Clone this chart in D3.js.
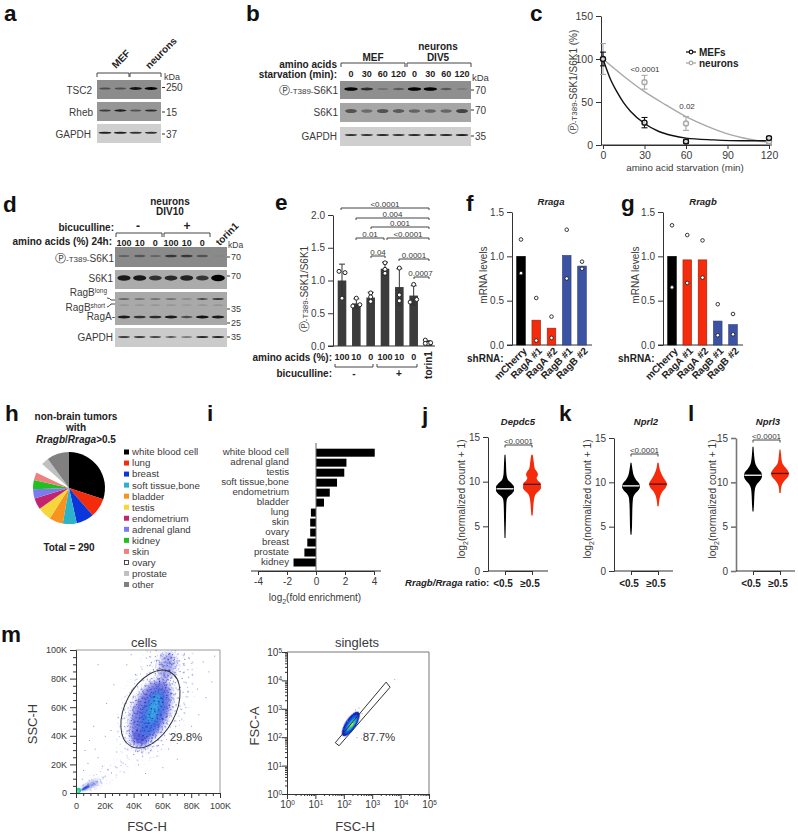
<!DOCTYPE html>
<html><head><meta charset="utf-8">
<script src="https://cdnjs.cloudflare.com/ajax/libs/d3/7.8.5/d3.min.js"></script>
<style>html,body{margin:0;padding:0;background:#fff}svg{display:block}text{font-family:"Liberation Sans",Arial,sans-serif}</style>
</head><body><svg id="fig" width="798" height="834"></svg>
<script>
// ---------- panel a ----------
const aKDa=["250","15","37"];
const aTSC2=[.45,.45,.85,1], aRheb=[.6,.8,.45,.7], aGAPDH=[.85,.85,.75,.75];
// ---------- panel b ----------
const bLanes=["0","30","60","120","0","30","60","120"];
const bPhospho=[1.1,.7,.2,.38,1,1,.4,.13], bS6K1=[.5,.35,.5,.45,.4,.4,.38,.6], bGAPDH=[.75,.75,.8,.75,.8,.8,.8,.85];
// ---------- panel c ----------
const cTimes=[0,30,60,120];
const cMEF=[100,26,4,8], cMEFErr=[8,6,2,2];
const cNeurons=[100,73,25,4], cNeuronsErr=[18,8,8,2];
const cMEFFitT=[0,5,10,15,20,30,40,50,60,80,100,120], cMEFFit=[100,78,62,49,39,25,16,11,8,6,5,5];
const cNeuronFitT=[0,15,30,45,60,75,90,105,120], cNeuronFit=[100,80,62,47,33,22,13,7,3];
// ---------- panel d ----------
const dLanes=["100","10","0","100","10","0"];
const dPhospho=[.3,.38,.28,.6,.6,.4,.03], dS6K1=[.85,.85,.7,.75,.8,.68,1.15];
const dRagBlong=[.5,.4,.42,.42,.22,.6,.65], dRagBshort=[.2,.18,.2,.2,.15,.2,.22], dRagA=[.85,.7,.75,.85,.55,.9,.85], dGAPDH=[.7,.7,.65,.6,.5,.8,.8];
// ---------- panel e ----------
const eLanes=["100","10","0","100","10","0"];
const eMeans=[1.0,.65,.74,1.18,.9,.77,.05];
const eErr=[.25,.07,.08,.1,.28,.15,.03];
const ePoints=[[1.14,1.12,.73],[.73,.61,.63],[.81,.75,.68],[1.27,1.17,1.11],[1.19,.78,.69],[.94,.67,.71],[.09,.04,.05,.04]];
const eJitter=[[-3,3,0],[0,-3.5,3.5],[0,0,0],[0,0,0],[0,0,0],[0,-3.5,3],[-2.7,0,2.7,-2.7]];
// ---------- panels f, g ----------
const shRNA=["mCherry","RagA #1","RagA #2","RagB #1","RagB #2"];
const shColors=["#000","#f42c0c","#f42c0c","#3c52a3","#3c52a3"];
const fMeans=[1.0,.28,.19,1.01,.89], fPoints=[[1.19,.81],[.53,.05],[.32,.08],[1.3,.75],[.94,.86]];
const gMeans=[1.0,.96,.96,.27,.23], gPoints=[[1.35,.65],[1.24,.7],[1.18,.76],[.46,.11],[.35,.12]];
// ---------- panel h ----------
const hTissue=["white blood cell","lung","breast","soft tissue,bone","bladder","testis","endometrium","adrenal gland","kidney","skin","ovary","prostate","other"];
const hCounts=[87,25,23,18,18,18,15,12,12,10,13,10,29];
const hColors=["#000","#f42c0c","#0a36dc","#2bb3c9","#f7931e","#f5d63d","#c4246e","#7b7bf0","#1fc01f","#f08080","#fff","#c0c0c0","#808080"];
// ---------- panel i ----------
const iTissue=["white blood cell","adrenal gland","testis","soft tissue,bone","endometrium","bladder","lung","skin","ovary","breast","prostate","kidney"];
const iEnrich=[4.05,2.1,1.95,1.45,.95,.55,-.35,-.4,-.4,-.6,-.8,-1.55];
// ---------- panels j, k, l : [log2 count, relative width] ----------
const jLow=[[3.7,1.5],[6,3],[7.5,4],[8,5.5],[8.3,10],[8.7,22],[9,27],[9.4,27],[9.8,20],[10.1,11],[10.5,6],[11,4],[12,3],[13,1.5]];
const jHigh=[[6.2,2],[7,3.5],[8,6],[8.6,11],[9,22],[9.3,27],[9.8,26],[10.1,18],[10.4,14],[10.8,18],[11.1,15],[11.5,8],[12,6],[12.6,4],[13,2]];
const kLow=[[4.1,1.5],[5,3],[7,4],[8.2,6],[8.7,12],[9.1,22],[9.5,27],[9.9,24],[10.3,15],[10.8,8],[11.3,5],[11.8,3],[12.2,1.5]];
const kHigh=[[7.3,2],[8,4],[8.5,7],[9,14],[9.4,23],[9.8,27],[10.1,24],[10.5,17],[11,10],[11.5,5],[12.2,2]];
const lLow=[[6.7,1.5],[7.5,3],[8.5,4],[9.3,6],[9.8,12],[10.3,23],[10.7,27],[11.1,25],[11.5,16],[12,8],[12.5,5],[13,3.5],[14,1.5]];
const lHigh=[[8.8,2],[9.5,4],[9.9,8],[10.3,16],[10.7,25],[11,27],[11.5,20],[12,9],[12.5,5],[13,3.5],[13.7,1.5]];
const jkMedians={j:[9.2,9.7],k:[9.6,9.8],l:[10.8,11]};
const ratioLabels=["<0.5","\u22650.5"];
// ---------- panel m : density regions ----------
const cellTicks=[0,20000,40000,60000,80000,100000];
const cellTickLabels=["0","20K","40K","60K","80K","100K"];
const cellGate=[51700,58700,25,42,28]; // cx, cy, rx, ry, rotation
const cellSparse=[[55000,62000,31,60,24,.75],[20000,12000,6,27,60,.8],[64000,90000,24,24,0,.9],[47000,36000,15,15,30,.9]];
const cellDense=[[52000,57000,20,36,24,1],[63000,88000,11,18,12,.85],[44000,37000,13,10,30,1],[12000,6000,2.5,12,64,.8]];
const cellGlow=[[52000,57000,17,33,23,"#1c24c8",.55],[63000,88000,7,14,12,"#1c24c8",.35],[44000,37000,9,7,30,"#1c24c8",.4],[53000,56000,10,25,20,"#1a6ee0",.6],[54000,59000,4.5,15,18,"#33bfe0",.85],[10000,5500,1.8,9,64,"#1c30d0",.7]];
const cellCore=[[6500,3500,1.3,4.5,60,"#1a40d8",.9],[1500,1800,3,2.6,0,"#20d0a0",1],[1000,1200,1.6,1.4,0,"#60e870",1]];
const cellOutliers=[[26000,76000],[21000,63000],[12000,47000],[9000,37000],[6000,30000],[13000,31000],[20000,40000],[29000,53000],[24000,44000],[8000,21000],[5000,16000],[4000,10000],[15000,25000],[18000,19000],[28000,29000],[33000,15000],[31000,22000],[56000,26000],[64000,31000],[70000,35000],[72000,42000],[80000,47000],[85000,55000],[90000,67000],[84000,73000],[94000,78000],[88000,92000],[96000,96000],[78000,95000],[92000,85000],[76000,60000],[35000,90000],[38000,97000],[41000,83000],[60000,18000],[70000,24000],[15000,90000],[48000,14000],[43000,20000],[67000,40000]];
const logDecades=[1,10,100,1000,10000,100000];
const singletGate=[[50,64],[68,50],[4260,5750],[3090,8700]];
const singletBlob=[[175,290,.19,.5,33,"#0a1ec8"],[180,285,.14,.4,34,"#0a5ae0"],[185,280,.09,.28,36,"#20b0d0"],[190,275,.05,.18,38,"#40d080"],[190,272,.025,.08,38,"#e8e040"]];
const singletOutliers=[[330,1100],[250,950],[500,150],[400,90],[6000,11000],[420,700],[130,380],[90,200],[280,100]];
const stippleTileA=[[1,3],[7,1],[13,4],[20,2],[26,5],[4,9],[10,12],[17,8],[23,11],[28,14],[2,16],[8,19],[15,15],[21,18],[27,21],[5,23],[12,25],[18,22],[24,27],[1,28],[9,6],[15,28],[22,6],[29,9]];
const stippleTileB=[[1,1],[4,3],[7,0],[10,2],[13,4],[2,6],[5,8],[8,5],[11,7],[14,9],[0,11],[3,13],[6,10],[9,12],[12,14],[15,1],[16,6],[17,11],[1,16],[4,17],[8,15],[11,16],[14,17],[17,15]];

// ---------- helpers ----------
const svg=d3.select("#fig");
const defs=svg.append("defs");
const ink="#3a3a3a";
[["b07",.6],["b04",.4],["b2",2],["b1",1.1],["b3",3]].forEach(([id,s])=>{
  defs.append("filter").attr("id",id).attr("x","-50%").attr("y","-50%").attr("width","200%").attr("height","200%")
    .append("feGaussianBlur").attr("stdDeviation",s);
});
function tile(id,pts,size,col,rot,sc){
  const p=defs.append("pattern").attr("id",id).attr("patternUnits","userSpaceOnUse").attr("width",size).attr("height",size).attr("patternTransform",`rotate(${rot}) scale(${sc})`);
  p.selectAll("rect").data(pts).join("rect").attr("x",d=>d[0]).attr("y",d=>d[1]).attr("width",.9).attr("height",.9).attr("fill",(d,i)=>i%3==0?"#5664ec":col);
}
tile("stA",stippleTileA,30,"#2a38d0",17,1);
tile("stA2",stippleTileA,30,"#2a38d0",63,1.27);
tile("stB",stippleTileB,18,"#1420c0",-11,1);
tile("stB2",stippleTileB,18,"#1420c0",37,1.13);
tile("stB3",stippleTileB,18,"#2430d0",74,.87);

function txt(g,x,y,s,o={}){
  const t=g.append("text").attr("x",x).attr("y",y).attr("dy",".35em").attr("font-size",o.size||10).attr("font-weight",o.w||null).attr("font-style",o.i?"italic":null)
    .attr("text-anchor",o.a||"middle").attr("fill",o.c||ink).text(s);
  if(o.rot!=null) t.attr("transform",`rotate(${o.rot} ${x} ${y})`);
  return t;
}
function rich(g,x,y,parts,o={}){
  const t=g.append("text").attr("x",x).attr("y",y).attr("dy",".35em").attr("font-size",o.size||10).attr("font-weight",o.w||null).attr("text-anchor",o.a||"middle").attr("fill",o.c||ink);
  if(o.rot!=null) t.attr("transform",`rotate(${o.rot} ${x} ${y})`);
  parts.forEach(p=>{const s=t.append("tspan").text(p.t);
    if(p.size) s.attr("font-size",p.size);
    if(p.i) s.attr("font-style","italic");
    if(p.dy) s.attr("dy",p.dy);
    if(p.font) s.style("font-family",p.font);
    if(p.w) s.attr("font-weight",p.w);
  });
  return t;
}
const PHOS=(tail)=>[{t:"\u24c5",font:"DejaVu Sans",size:10.5},{t:"-T389-",size:8},{t:tail}];
function line(g,x1,y1,x2,y2,o={}){return g.append("line").attr("x1",x1).attr("y1",y1).attr("x2",x2).attr("y2",y2).attr("stroke",o.c||"#333").attr("stroke-width",o.w||1);}
function bracket(g,x1,x2,y,dir,o={}){g.append("path").attr("d",`M${x1},${y+dir}V${y}H${x2}V${y+dir}`).attr("fill","none").attr("stroke",o.c||"#444").attr("stroke-width",o.w||1);}
function letter(s,x,y){svg.append("text").attr("x",x).attr("y",y).attr("font-size",22.5).attr("font-weight","bold").attr("fill","#111").text(s);}
function styleAxis(a,o={}){
  a.selectAll("path.domain").attr("stroke",o.c||"#333").attr("stroke-width",o.w||1);
  a.selectAll(".tick line").attr("stroke",o.c||"#333").attr("stroke-width",o.w||1);
  a.selectAll(".tick text").attr("font-size",o.size||10).attr("fill",o.tc||ink).style("font-family",'"Liberation Sans",Arial,sans-serif');
  return a;
}
function blotRow(g,x0,x1,y0,y1,bg){g.append("rect").attr("x",x0).attr("y",y0).attr("width",x1-x0).attr("height",y1-y0).attr("fill",bg);}
function bands(g,lane,vals,y,w,h){
  g.selectAll(null).data(vals).join("ellipse").attr("cx",(d,i)=>lane(i)).attr("cy",y).attr("rx",d=>w*(.82+.25*Math.min(d,1))).attr("ry",d=>h*(.5+.5*Math.min(d,1.2)))
    .attr("fill","#000").attr("opacity",d=>Math.min(1,d)).attr("filter","url(#b07)");
}
letter("a",4,20.5);letter("b",246,20.5);letter("c",530,20.5);letter("d",3,212);letter("e",275,210);letter("f",466,211);letter("g",621,211);letter("h",5,421);letter("i",207,421);letter("j",422,423);letter("k",559,421);letter("l",688,421);letter("m",1,642);

const B={w:"bold",size:10,c:"#222"}, L={...B,size:9};
// ---------- a ----------
{const g=svg.append("g");
 const lane=d3.scalePoint().domain(d3.range(4)).range([105,151]);
 blotRow(g,97,161,80,99,"#8c8c8c");blotRow(g,97,161,102,121,"#969696");blotRow(g,97,161,124,143,"#cfcfcf");
 bands(g,lane,aTSC2,88.5,6,1.5);bands(g,lane,aRheb,110.5,6,1.3);bands(g,lane,aGAPDH,132.7,6.2,1.1);
 txt(g,121,59,"MEF",{...B,rot:-45});txt(g,161,53,"neurons",{...B,rot:-45});
 bracket(g,97,129,73,4);bracket(g,130,161,73,4);
 txt(g,172,77,"kDa",{size:9});
 [[92,90,"TSC2"],[93,112,"Rheb"],[91,134,"GAPDH"]].forEach(d=>txt(g,d[0],d[1],d[2],{a:"end"}));
 aKDa.forEach((s,i)=>{const y=[87.5,112,134][i];line(g,162,y,165,y);txt(g,166,y,s,{a:"start"});});
}
// ---------- b ----------
{const g=svg.append("g");
 const lane=d3.scalePoint().domain(d3.range(8)).range([351,462]);
 blotRow(g,340,471,81,99,"#8f8f8f");blotRow(g,340,471,103,122,"#a6a6a6");blotRow(g,340,471,127,146,"#cfcfcf");
 bands(g,lane,bPhospho,89,6.3,1.7);bands(g,lane,bS6K1,111,6.2,2.6);bands(g,lane,bGAPDH,135,6.2,1.1);
 txt(g,373,57,"MEF",B);txt(g,438,46.5,"neurons",B);txt(g,438,57,"DIV5",B);
 txt(g,337,64,"amino acids",{...B,a:"end"});txt(g,337,74.5,"starvation (min):",{...B,a:"end"});
 bracket(g,341,405,63,4);bracket(g,407,471,63,4);
 bLanes.forEach((s,i)=>txt(g,lane(i),74,s,L));
 txt(g,472,78,"kDa",{a:"start",size:9.5});
 [[90,"70"],[110,"70"],[136,"35"]].forEach(d=>{line(g,471,d[0],474,d[0]);txt(g,475,d[0],d[1],{a:"start"});});
 rich(g,338,90,PHOS("S6K1"),{a:"end"});
 txt(g,338,112,"S6K1",{a:"end"});txt(g,337,136,"GAPDH",{a:"end"});
}
// ---------- c ----------
{const g=svg.append("g");
 const x=d3.scaleLinear().domain([0,120]).range([603,769]), y=d3.scaleLinear().domain([0,150]).range([145,16]);
 styleAxis(g.append("g").attr("transform","translate(601,0)").call(d3.axisLeft(y).tickValues([0,50,100,150]).tickSize(5).tickSizeOuter(0)),{size:10.5});
 const ax=g.append("g").attr("transform","translate(0,145)").call(d3.axisBottom(x).tickValues([0,30,60,90,120]).tickSize(4).tickSizeOuter(0));
 styleAxis(ax,{size:10.5});line(g,601,145,772,145);
 const l=d3.line().x(d=>x(d[0])).y(d=>y(d[1])).curve(d3.curveMonotoneX);
 g.append("path").attr("d",l(cNeuronFitT.map((t,i)=>[t,cNeuronFit[i]]))).attr("fill","none").attr("stroke","#a8a8a8").attr("stroke-width",1.4);
 g.append("path").attr("d",l(cMEFFitT.map((t,i)=>[t,cMEFFit[i]]))).attr("fill","none").attr("stroke","#111").attr("stroke-width",1.4);
 [[cNeurons,cNeuronsErr,"#a8a8a8"],[cMEF,cMEFErr,"#111"]].forEach(([v,e,c])=>{
   cTimes.forEach((t,i)=>{const px=x(t);
     line(g,px,y(v[i]-e[i]),px,y(v[i]+e[i]),{c,w:1.1});
     line(g,px-3,y(v[i]+e[i]),px+3,y(v[i]+e[i]),{c,w:1.1});line(g,px-3,y(v[i]-e[i]),px+3,y(v[i]-e[i]),{c,w:1.1});
     g.append("circle").attr("cx",px).attr("cy",y(v[i])).attr("r",2.5).attr("fill","#fff").attr("fill-opacity",.75).attr("stroke",c).attr("stroke-width",1.4);
   });});
 txt(g,645,69,"<0.0001",{size:8});txt(g,687,106,"0.02",{size:8});
 rich(g,573,82,PHOS("S6K1/S6K1 (%)"),{rot:-90});
 txt(g,685,168,"amino acid starvation (min)",{size:9.8});
 [["MEFs",52,"#111"],["neurons",63,"#a8a8a8"]].forEach(d=>{line(g,686,d[1],696,d[1],{c:d[2],w:1.3});
   g.append("circle").attr("cx",691).attr("cy",d[1]).attr("r",1.8).attr("fill","#fff").attr("stroke",d[2]).attr("stroke-width",1.2);
   txt(g,699,d[1],d[0],{...B,a:"start"});});
}
// ---------- d ----------
{const g=svg.append("g");
 const lane=d3.scalePoint().domain(d3.range(7)).range([124,218]);
 blotRow(g,115,227,247,267,"#8a8a8a");blotRow(g,115,227,270,289,"#ababab");blotRow(g,115,227,292,325,"#a9a9a9");blotRow(g,115,227,328,347,"#cbcbcb");
 bands(g,lane,dPhospho,256,6.2,1.7);bands(g,lane,dS6K1,278,6.4,3);bands(g,lane,dRagBlong,299,6,1.1);bands(g,lane,dRagBshort,305,6,.9);bands(g,lane,dRagA,317,6.2,1.5);bands(g,lane,dGAPDH,337,6,1.1);
 txt(g,170,201,"neurons",B);txt(g,170,211.5,"DIV10",B);
 txt(g,114,227,"bicuculline:",{...B,a:"end"});txt(g,138,226,"-",{...B,size:12});txt(g,187,226,"+",{...B,size:12});
 bracket(g,116,162,233,4);bracket(g,164,210,233,4);
 txt(g,112,241,"amino acids (%) 24h:",{...B,a:"end"});
 dLanes.forEach((s,i)=>txt(g,lane(i),243,s,L));
 txt(g,227,234,"torin1",{...B,rot:-45});
 txt(g,228,245,"kDa",{a:"start",size:8.5});
 [[257,"70"],[276,"70"],[309,"35"],[323,"25"],[337,"35"]].forEach(d=>{line(g,227,d[0],230,d[0]);txt(g,231,d[0],d[1],{a:"start",size:9});});
 rich(g,114,258,PHOS("S6K1"),{a:"end"});
 txt(g,113,278,"S6K1",{a:"end"});
 rich(g,107,292,[{t:"RagB"},{t:"long",size:6.5,dy:-3}],{a:"end"});
 rich(g,105,307,[{t:"RagB"},{t:"short",size:6.5,dy:-3}],{a:"end"});
 txt(g,115,316,"RagA-",{a:"end"});txt(g,113,337,"GAPDH",{a:"end"});
 g.append("path").attr("d","M107,298 Q110,298 111,300 L115,300 M107,307 Q110,306 111,304 L115,304").attr("fill","none").attr("stroke","#333").attr("stroke-width",.9);
}
// ---------- e ----------
{const g=svg.append("g");
 const x=d3.scalePoint().domain(d3.range(7)).range([342,428]), y=d3.scaleLinear().domain([0,2]).range([346,215]);
 styleAxis(g.append("g").attr("transform","translate(333,0)").call(d3.axisLeft(y).tickValues([0,.5,1,1.5,2]).tickFormat(d3.format(".1f")).tickSize(5).tickSizeOuter(0)));
 line(g,328,346,435,346);
 g.selectAll(null).data(eMeans).join("rect").attr("x",(d,i)=>x(i)-4.3).attr("width",8.6).attr("y",d=>y(d)).attr("height",d=>346-y(d)).attr("fill","#3c3c3c");
 eMeans.forEach((m,i)=>{line(g,x(i),y(m-eErr[i]),x(i),y(m+eErr[i]),{c:"#333"});line(g,x(i)-3,y(m+eErr[i]),x(i)+3,y(m+eErr[i]),{c:"#333"});line(g,x(i)-3,y(m-eErr[i]),x(i)+3,y(m-eErr[i]),{c:"#333"});
   ePoints[i].forEach((v,j)=>g.append("circle").attr("cx",x(i)+eJitter[i][j]).attr("cy",y(v)).attr("r",2).attr("fill","#fff").attr("stroke","#222"));});
 [["<0.0001",341,429,208],["0.004",356,429,218],["0.001",371,429,227],["0.01",356,384,238],["<0.0001",387,429,238],["0.04",371,385,256],["0.0001",399,429,259],["0.0007",414,429,277]].forEach(d=>{
   bracket(g,d[1],d[2],d[3],2);txt(g,(d[1]+d[2])/2+(d[0]=="0.0007"?-1:0),d[3]-4,d[0],{size:8});});
 rich(g,304,289,PHOS("S6K1/S6K1"),{rot:-90});
 txt(g,332,357,"amino acids (%):",{...B,a:"end"});txt(g,332,373,"bicuculline:",{...B,a:"end"});
 eLanes.forEach((s,i)=>txt(g,x(i),357,s,L));
 bracket(g,335,373,367,-3);bracket(g,377,417,367,-3);
 txt(g,354,373,"-",B);txt(g,399,373,"+",B);
 txt(g,428,365,"torin1",{...B,rot:-90});
}
// ---------- f, g ----------
function shPanel(ax,bars,means,pts,title,titleX,lblX){
 const g=svg.append("g");
 const x=d3.scalePoint().domain(d3.range(5)).range(bars), y=d3.scaleLinear().domain([0,1.5]).range([345,212]);
 styleAxis(g.append("g").attr("transform",`translate(${ax},0)`).call(d3.axisLeft(y).tickValues([0,.5,1,1.5]).tickFormat(d3.format(".1f")).tickSize(5).tickSizeOuter(0)));
 line(g,ax-5,345,ax+80,345);
 g.selectAll(null).data(means).join("rect").attr("x",(d,i)=>x(i)-4.3).attr("width",8.6).attr("y",d=>y(d)).attr("height",d=>345-y(d)).attr("fill",(d,i)=>shColors[i]).attr("stroke",(d,i)=>i==0?"#000":i<3?"#9a1a08":"#2a3a80").attr("stroke-width",.6);
 pts.forEach((p,i)=>p.forEach(v=>g.append("circle").attr("cx",x(i)).attr("cy",y(v)).attr("r",1.8).attr("fill","#fff").attr("stroke","#222").attr("stroke-width",.9)));
 txt(g,titleX,202,title,{w:"bold",i:1,size:9.5,c:"#222"});
 txt(g,lblX,275,"mRNA levels",{rot:-90});
 shRNA.forEach((s,i)=>txt(g,x(i)+4,349,s,{...B,a:"end",rot:-45}));
 txt(g,ax-45,358,"shRNA:",{...B,a:"start"});
}
shPanel(512,[521,582],fMeans,fPoints,"Rraga",551,483);
shPanel(663,[672,733],gMeans,gPoints,"Rragb",703,635);
// ---------- h ----------
{const g=svg.append("g");
 txt(g,76,416,"non-brain tumors",B);txt(g,76,427,"with",B);
 rich(g,76,439,[{t:"Rragb",i:1},{t:"/"},{t:"Rraga",i:1},{t:">0.5"}],B);
 const arcs=d3.pie().sort(null)(hCounts);
 g.append("g").attr("transform","translate(69,488)").selectAll("path").data(arcs).join("path").attr("d",d3.arc().innerRadius(0).outerRadius(36)).attr("fill",(d,i)=>hColors[i]);
 txt(g,69,547,"Total = 290",B);
 const rowY=d3.scalePoint().domain(d3.range(13)).range([452,584.5]);
 hTissue.forEach((s,i)=>{
   const o=s=="ovary";
   g.append("rect").attr("x",o?124.5:124).attr("y",rowY(i)-(o?2:2.5)).attr("width",o?4:5).attr("height",o?4:5).attr("fill",hColors[i]).attr("stroke",o?"#222":"none").attr("stroke-width",.8);
   txt(g,132,rowY(i),s,{a:"start",size:9.7});
 });
}
// ---------- i ----------
{const g=svg.append("g");
 const x=d3.scaleLinear().domain([-4,4]).range([258,374]);
 const y=d3.scalePoint().domain(iTissue).range([452.7,562.5]);
 styleAxis(g.append("g").attr("transform","translate(0,571)").call(d3.axisBottom(x).tickValues([-4,-2,0,2,4]).tickSize(4).tickSizeOuter(0).tickFormat(d=>d<0?"-"+(-d):d)));
 line(g,251,571,381,571);
 g.selectAll(null).data(iEnrich).join("rect").attr("y",(d,i)=>y(iTissue[i])-4).attr("height",8).attr("x",d=>Math.min(x(0),x(d))).attr("width",d=>Math.abs(x(d)-x(0))).attr("fill","#000");
 line(g,x(0),443,x(0),571,{c:"#666"});
 iTissue.forEach(s=>txt(g,289,y(s)-1,s,{a:"end",size:9.7}));
 rich(g,315,597,[{t:"log"},{t:"2",size:7,dy:3},{t:"(fold enrichment)",dy:-3}],{size:10});
}
// ---------- j, k, l ----------
function violinPanel(ax,pos,axEnd,y15,low,high,med,title,titleX,lblX,brY,o={}){
 const g=svg.append("g");
 const y=d3.scaleLinear().domain([0,15]).range([571,y15]);
 const oo=o.gray?{c:"#777",w:1.6}:{};
 styleAxis(g.append("g").attr("transform",`translate(${ax},0)`).call(d3.axisLeft(y).tickValues([0,5,10,15]).tickSize(5).tickSizeOuter(0)),oo);
 styleAxis(g.append("g").attr("transform","translate(0,571)").call(d3.axisBottom(d3.scalePoint().domain([0,1]).range(pos)).tickSize(4).tickFormat("")));
 line(g,ax,571,axEnd,571);
 [[low,"#000",pos[0],"#fff"],[high,"#f42c0c",pos[1],"#5a0a00"]].forEach(([d,c,cx,mc],i)=>{
   const area=d3.area().y(e=>y(e[0])).x0(e=>cx-e[1]/3).x1(e=>cx+e[1]/3).curve(d3.curveMonotoneY);
   g.append("path").attr("d",area(d)).attr("fill",c);
   const mw=d3.max(d,e=>e[1])/3;
   line(g,cx-mw+.5,y(med[i]),cx+mw-.5,y(med[i]),{c:mc,w:1.3});
 });
 bracket(g,pos[0],pos[1],brY,2.5);
 txt(g,(pos[0]+pos[1])/2,brY-4,"<0.0001",{size:8});
 txt(g,titleX,422,title,{w:"bold",i:1,size:9.5,c:"#222"});
 rich(g,lblX,499,[{t:"log"},{t:"2",size:7,dy:3},{t:"(normalized count + 1)",dy:-3}],{rot:-90,size:10.2});
 ratioLabels.forEach((s,i)=>txt(g,pos[i]-2,583,s,B));
}
violinPanel(488,[505,532],548,437,jLow,jHigh,jkMedians.j,"Depdc5",518,461,445);
violinPanel(614,[631,658],673,438,kLow,kHigh,jkMedians.k,"Nprl2",646,587,454);
violinPanel(736,[753,780],795,438,lLow,lHigh,jkMedians.l,"Nprl3",768,712,440,{gray:1});
rich(svg,405,583,[{t:"Rragb/Rraga",i:1},{t:" ratio:"}],{a:"start",w:"bold",size:9.6,c:"#222"});
// ---------- m : cells ----------
{const g=svg.append("g");
 const x=d3.scaleLinear().domain([0,100000]).range([76,220]), y=d3.scaleLinear().domain([0,100000]).range([793,650]);
 defs.append("clipPath").attr("id","cellClip").append("rect").attr("x",76).attr("y",650).attr("width",144).attr("height",143);
 const plot=g.append("g").attr("clip-path","url(#cellClip)");
 const ell=(sel,d)=>sel.attr("cx",x(d[0])).attr("cy",y(d[1])).attr("rx",d[2]).attr("ry",d[3]).attr("transform",`rotate(${d[4]} ${x(d[0])} ${y(d[1])})`);
 cellGlow.forEach(d=>ell(plot.append("ellipse"),d).attr("fill",d[5]).attr("opacity",d[6]).attr("filter","url(#b2)"));
 [[cellSparse,["stA","stA2"],"mS"],[cellDense,["stB","stB2","stB3"],"mD"]].forEach(([set,pats,id])=>{
   const m=defs.append("mask").attr("id",id).attr("maskUnits","userSpaceOnUse").attr("x",0).attr("y",600).attr("width",300).attr("height",234);
   set.forEach(d=>ell(m.append("ellipse"),d).attr("fill","#fff").attr("fill-opacity",d[5]).attr("filter","url(#b3)"));
   pats.forEach(pat=>plot.append("rect").attr("x",76).attr("y",650).attr("width",144).attr("height",143).attr("fill",`url(#${pat})`).attr("mask",`url(#${id})`));
 });
 cellCore.forEach(d=>ell(plot.append("ellipse"),d).attr("fill",d[5]).attr("opacity",d[6]).attr("filter","url(#b04)"));
 plot.selectAll("rect.o").data(cellOutliers).join("rect").attr("class","o").attr("x",d=>x(d[0])).attr("y",d=>y(d[1])).attr("width",.9).attr("height",.9).attr("fill","#6a78e8");
 ell(g.append("ellipse"),cellGate).attr("fill","none").attr("stroke","#333").attr("stroke-width",1);
 g.append("path").attr("d","M76,650H220V793").attr("fill","none").attr("stroke","#999");
 const fmt=(d)=>cellTickLabels[cellTicks.indexOf(d)];
 styleAxis(g.append("g").attr("transform","translate(76,0)").call(d3.axisLeft(y).tickValues(cellTicks).tickFormat(fmt).tickSize(6).tickSizeOuter(0)),{size:9});
 styleAxis(g.append("g").attr("transform","translate(0,793)").call(d3.axisBottom(x).tickValues(cellTicks).tickFormat(fmt).tickSize(5).tickPadding(5).tickSizeOuter(0)),{size:9});
 const minor=d3.range(0,100001,5000).filter(v=>v%20000);
 styleAxis(g.append("g").attr("transform","translate(76,0)").call(d3.axisLeft(y).tickValues(minor).tickFormat("").tickSize(3).tickSizeOuter(0)));
 styleAxis(g.append("g").attr("transform","translate(0,793)").call(d3.axisBottom(x).tickValues(minor).tickFormat("").tickSize(3).tickSizeOuter(0)));
 txt(g,144,642,"cells",{size:13});
 txt(g,32,724,"SSC-H",{size:13,rot:-90});txt(g,147,826,"FSC-H",{size:13});
 txt(g,186,737,"29.8%",{size:11.5});
}
// ---------- m : singlets ----------
{const g=svg.append("g");
 const x=d3.scaleLog().domain([1,100000]).range([287,429]), y=d3.scaleLog().domain([1,100000]).range([794,652]);
 singletBlob.forEach(d=>{const cx=x(d[0]),cy=y(d[1]);
   g.append("ellipse").attr("cx",cx).attr("cy",cy).attr("rx",x(Math.pow(10,d[2]))-287).attr("ry",x(Math.pow(10,d[3]))-287).attr("transform",`rotate(${d[4]} ${cx} ${cy})`).attr("fill",d[5]).attr("filter","url(#b04)");});
 g.selectAll("rect.o").data(singletOutliers).join("rect").attr("class","o").attr("x",d=>x(d[0])).attr("y",d=>y(d[1])).attr("width",.9).attr("height",.9).attr("fill","#7a88e8");
 g.append("path").attr("d",d3.line().x(d=>x(d[0])).y(d=>y(d[1])).curve(d3.curveLinearClosed)(singletGate)).attr("fill","none").attr("stroke","#333").attr("stroke-width",1);
 g.append("path").attr("d","M287,652H429V794").attr("fill","none").attr("stroke","#777");
 const exp=d=>Math.round(Math.log10(d));
 const lab=(sel,dir)=>{sel.selectAll(".tick text").remove();
   sel.selectAll(".tick").append("text").attr("font-size",10).attr("fill",ink).attr("x",dir=="l"?-5:0).attr("y",dir=="l"?0:14).attr("dy",dir=="l"?".35em":0).attr("text-anchor",dir=="l"?"end":"middle").each(function(d){
     d3.select(this).append("tspan").text("10");
     d3.select(this).append("tspan").attr("font-size",6.5).attr("dy",-3).text(exp(d));});};
 const aL=styleAxis(g.append("g").attr("transform","translate(287,0)").call(d3.axisLeft(y).tickValues(logDecades).tickSize(5).tickSizeOuter(0)));lab(aL,"l");
 const aB=styleAxis(g.append("g").attr("transform","translate(0,794)").call(d3.axisBottom(x).tickValues(logDecades).tickSize(5).tickSizeOuter(0)));lab(aB,"b");
 const minor=logDecades.slice(0,-1).flatMap(b=>[2,3,4,5,6,7,8,9].map(k=>k*b));
 styleAxis(g.append("g").attr("transform","translate(287,0)").call(d3.axisLeft(y).tickValues(minor).tickFormat("").tickSize(2).tickSizeOuter(0)));
 styleAxis(g.append("g").attr("transform","translate(0,794)").call(d3.axisBottom(x).tickValues(minor).tickFormat("").tickSize(2).tickSizeOuter(0)));
 txt(g,357,642,"singlets",{size:13});
 txt(g,254,726,"FSC-A",{size:13,rot:-90});txt(g,355,826,"FSC-H",{size:13});
 txt(g,379,737,"87.7%",{size:11.5});
}
</script></body></html>
